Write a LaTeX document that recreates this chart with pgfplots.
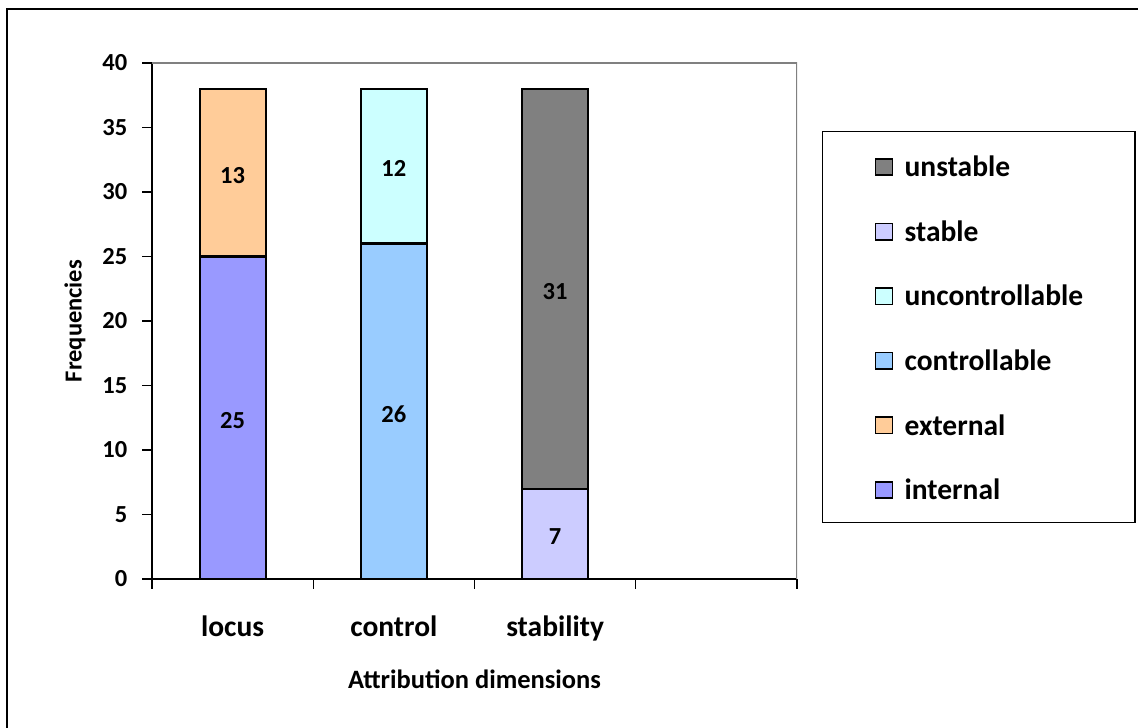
\documentclass[border=0pt]{standalone}
\usepackage{pgfplots}
\pgfplotsset{compat=1.18}
\usepackage{fontspec}
\setmainfont{Carlito}
\newcommand\tickfont{\fontsize{24.5}{29}\selectfont\bfseries}
\newcommand\titlefont{\fontsize{26.5}{31}\selectfont\bfseries}
\newcommand\catfont{\fontsize{29.5}{35}\selectfont\bfseries}
\definecolor{cInternal}{HTML}{9999FF}
\definecolor{cExternal}{HTML}{FFCC99}
\definecolor{cControllable}{HTML}{99CCFF}
\definecolor{cUncontrollable}{HTML}{CCFFFF}
\definecolor{cStable}{HTML}{CCCCFF}
\definecolor{cUnstable}{HTML}{808080}
\pgfplotsset{
  frame geometry/.style={
    at={(152pt,149pt)}, anchor=south west,
    x=161.25pt, y=12.9pt,
    xmin=-0.5, xmax=3.5, ymin=0, ymax=40,
  },
  segment/.style={fill=#1, draw=black, line width=2.2pt},
}
\begin{document}
\begin{tikzpicture}
\useasboundingbox (0,0) rectangle (1138pt,728pt);
% outer chart frame
\draw[line width=2pt] (7pt,-20pt) -- (7pt,719pt) -- (1160pt,719pt);
\begin{axis}[
  frame geometry,
  ybar stacked, bar width=66pt,
  axis x line*=bottom, axis y line*=left,
  axis line style={black, line width=2pt},
  tick align=outside,
  major tick length=9.5pt,
  tick style={black, line width=1.4pt},
  ytick={0,5,...,40},
  xtick={-0.5,0.5,1.5,2.5,3.5}, xticklabels={,,,,},
  extra x ticks={0,1,2},
  extra x tick labels={locus,control,stability},
  extra x tick style={major tick length=0pt,
    xticklabel style={font=\catfont, anchor=base, yshift=-58pt}},
  tick label style={/pgf/number format/assume math mode=true},
  yticklabel style={font=\tickfont, anchor=east, inner sep=0pt, xshift=-15pt},
  xlabel={Attribution dimensions},
  ylabel={Frequencies},
  xlabel style={font=\titlefont, at={(axis description cs:0.5,-0.1938)}, anchor=center},
  ylabel style={font=\tickfont, at={(axis description cs:-0.1194,0.5)}, anchor=center},
  legend image code/.code={%
    \draw[#1, line width=1.6pt] (0pt,-9.5pt) rectangle (17pt,7pt);
    \path (28pt,0pt);},
  reverse legend,
  legend cell align=left,
  legend style={at={(axis description cs:1.0388,0.8682)}, anchor=north west,
    draw=black, line width=1.4pt, font=\catfont,
    inner xsep=52pt, inner ysep=23pt,
    row sep=42.6pt,
    nodes={inner sep=0pt, text height=22pt, text depth=0pt}},
]
\addplot[segment=cInternal] coordinates {(0,25) (1,0) (2,0)};
\addlegendentry{internal}
\addplot[segment=cExternal] coordinates {(0,13) (1,0) (2,0)};
\addlegendentry{external}
\addplot[segment=cControllable] coordinates {(0,0) (1,26) (2,0)};
\addlegendentry{controllable}
\addplot[segment=cUncontrollable] coordinates {(0,0) (1,12) (2,0)};
\addlegendentry{uncontrollable}
\addplot[segment=cStable] coordinates {(0,0) (1,0) (2,7)};
\addlegendentry{stable}
\addplot[segment=cUnstable] coordinates {(0,0) (1,0) (2,31)};
\addlegendentry{unstable}
% plot area border: grey top and right edges
\draw[color=cUnstable, line width=2pt] (rel axis cs:0,1) -- (rel axis cs:1,1) -- (rel axis cs:1,0);
\end{axis}
% segment values, centred in each segment (midpoint of its stacked range)
\begin{axis}[
  frame geometry,
  hide axis,
  point meta=explicit symbolic,
  nodes near coords,
  nodes near coords align=center,
  every node near coord/.append style={font=\tickfont, anchor=center, yshift=-2.5pt},
]
\addplot[draw=none, mark=none] coordinates {
  (0,12.5) [25] (0,31.5) [13]
  (1,13)   [26] (1,32)   [12]
  (2,3.5)  [7]  (2,22.5) [31]
};
\end{axis}
\end{tikzpicture}
\end{document}
